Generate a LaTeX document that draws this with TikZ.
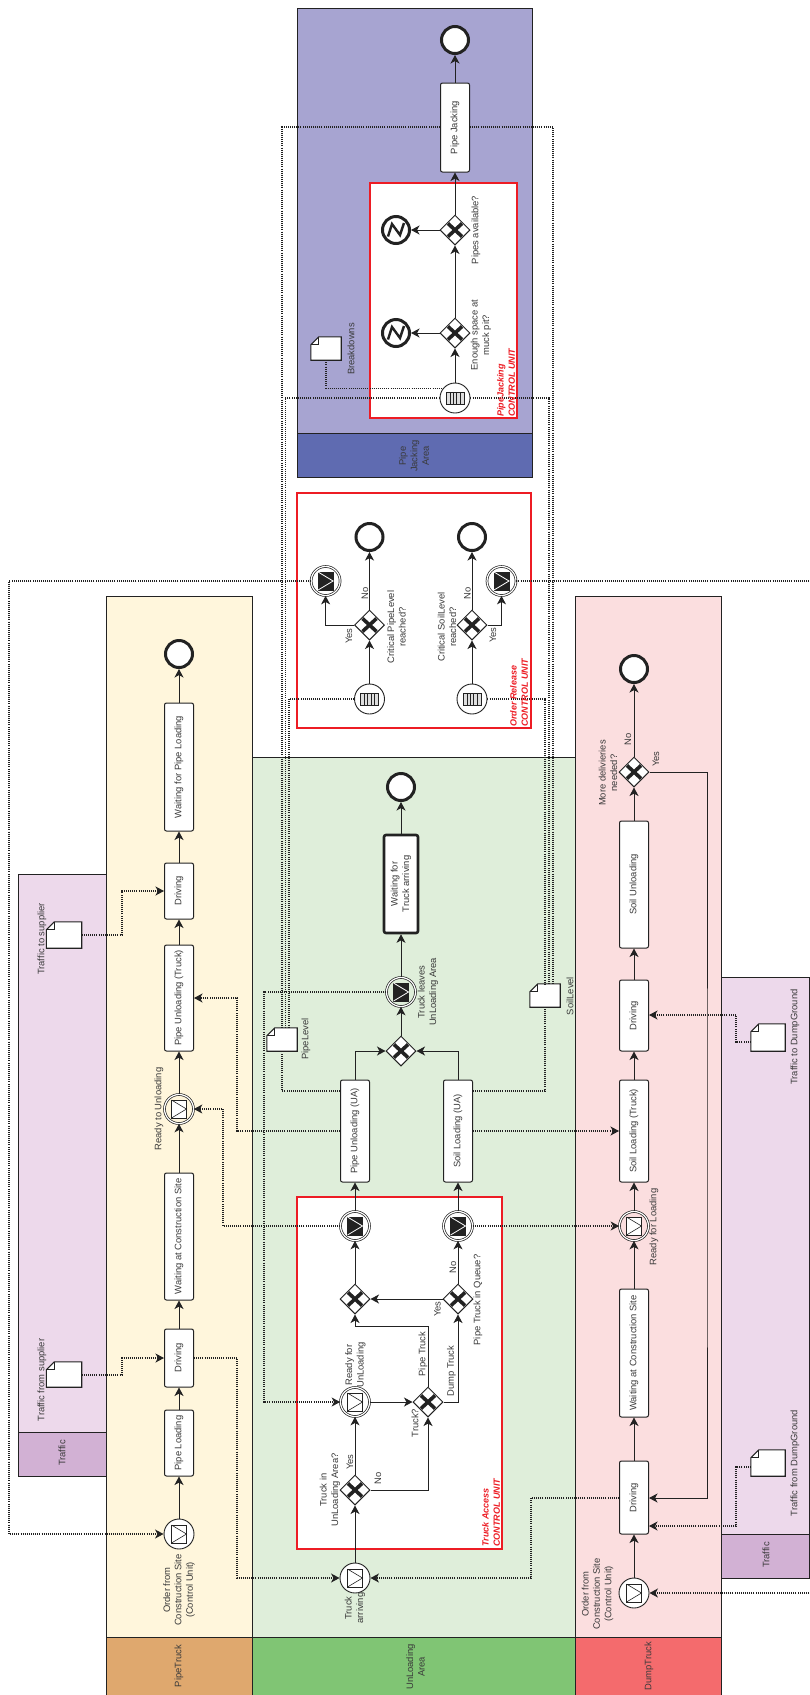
\documentclass[tikz,border=0pt]{standalone}
\usepackage{fontspec}
\setmainfont{Liberation Sans}
\usetikzlibrary{shapes.geometric,arrows.meta}
\definecolor{ink}{HTML}{222222}
\definecolor{txt}{HTML}{3A3A3A}
\definecolor{redb}{HTML}{ED1C24}
\definecolor{lpipe}{HTML}{FFF6DC}\definecolor{hpipe}{HTML}{DFA86E}
\definecolor{lunl}{HTML}{DFEEDA}\definecolor{hunl}{HTML}{80C574}
\definecolor{ldump}{HTML}{FBDEDF}\definecolor{hdump}{HTML}{F46B6D}
\definecolor{ltraf}{HTML}{EDD9EB}\definecolor{htraf}{HTML}{D2B1D4}
\definecolor{ljack}{HTML}{A7A4D1}\definecolor{hjack}{HTML}{5F6BB1}
\newcounter{labc}
\tikzset{
  lanebox/.style={draw=ink,line width=0.9pt},
  redbox/.style={draw=redb,line width=2.8pt,fill=white},
  taskbox/.style={draw=ink,line width=1pt,fill=white,rounded corners=2pt,rotate=90,inner sep=0pt,minimum height=29pt,align=center,text=txt,font=\fontsize{9.4}{11.4}\selectfont},
  gatebox/.style={draw=ink,line width=1pt,fill=white,diamond,aspect=1,inner sep=0pt,minimum size=30pt},
  evstart/.style={draw=ink,line width=0.9pt,fill=white,circle,inner sep=0pt,minimum size=30pt},
  evinter/.style={draw=ink,line width=0.7pt,double=white,double distance=1.2pt,circle,inner sep=0pt,minimum size=29pt},
  evend/.style={draw=ink,line width=3pt,fill=white,circle,inner sep=0pt,minimum size=27pt},
  dataanchor/.style={inner sep=0pt,draw=none},
  flow/.style={draw=ink,line width=1pt,-{Stealth[length=8.5pt,width=9pt,inset=2.4pt]}},
  msgflow/.style={draw=ink,line width=1.1pt,dash pattern=on 1pt off 1.1pt},
  msgarrow/.style={msgflow,-{Stealth[length=8.5pt,width=9pt,inset=2.4pt]}},
  lbl/.style={rotate=90,align=center,text=txt,inner sep=0pt,font=\fontsize{9.4}{11.4}\selectfont},
  redlbl/.style={rotate=90,align=left,anchor=west,text=redb,inner sep=0pt,font=\fontsize{9}{11.4}\selectfont\bfseries\itshape},
}
\newcommand\tsk[6][taskbox]{\node[#1,minimum width={(#5-#4)*1pt}] (#2) at (#3,{(#4+#5)/2}) {#6};}
\newcommand\lab[3]{\stepcounter{labc}\node[lbl] (lab\thelabc) at (#1,#2) {#3};}
\newcommand\redlab[3]{\stepcounter{labc}\node[redlbl] (lab\thelabc) at (#1,#2) {#3};}
\newcommand\xmark[1]{\draw[ink,line width=3.6pt] ([shift={(-7pt,-6.5pt)}]#1.center) -- ([shift={(7pt,6.5pt)}]#1.center) ([shift={(-7pt,6.5pt)}]#1.center) -- ([shift={(7pt,-6.5pt)}]#1.center);}
\newcommand\gate[3]{\node[gatebox] (#1) at (#2,#3) {};\xmark{#1}}
\newcommand\envw[1]{\begin{scope}[shift={(#1.center)}]\draw[ink,line width=0.9pt,fill=white] (-7.5,-9) rectangle (7.5,9);\draw[ink,line width=0.6pt] (-7.5,-9) -- (7.5,0) -- (-7.5,9);\end{scope}}
\newcommand\envb[1]{\begin{scope}[shift={(#1.center)}]\draw[ink,line width=0.9pt,fill=ink] (-7.5,-9) rectangle (7.5,9);\draw[white,line width=0.8pt] (-7.5,-9) -- (7.5,0) -- (-7.5,9);\end{scope}}
\newcommand\startmsg[3]{\node[evstart] (#1) at (#2,#3) {};\envw{#1}}
\newcommand\catch[3]{\node[evinter] (#1) at (#2,#3) {};\envw{#1}}
\newcommand\throw[3]{\node[evinter] (#1) at (#2,#3) {};\envb{#1}}
\newcommand\condstart[3]{\node[evstart] (#1) at (#2,#3) {};\begin{scope}[shift={(#1.center)}]\draw[ink,line width=0.8pt,fill=ink!15] (-9,-6) rectangle (9,6);\foreach \xx in {-5,-1.7,1.7,5}{\draw[ink,line width=0.9pt] (\xx,-6) -- (\xx,6);}\end{scope}}
\newcommand\errend[3]{\node[evend] (#1) at (#2,#3) {};\begin{scope}[shift={(#1.center)}]\draw[ink,line width=2.4pt,miter limit=4] (-8,6.5) -- (-4,-6) -- (4,5) -- (8,-7);\end{scope}}
\newcommand\dataobj[5]{\node[dataanchor,minimum width=#4 pt,minimum height=#5 pt] (#1) at (#2,#3) {};
  \draw[ink,line width=1.1pt,fill=white] ([xshift=8pt]#1.north west) -- (#1.north east) -- (#1.south east) -- (#1.south west) -- ([yshift=-8pt]#1.north west) -- cycle;
  \draw[ink,line width=1.1pt] ([xshift=8pt]#1.north west) -- ([xshift=8pt,yshift=-8pt]#1.north west) -- ([yshift=-8pt]#1.north west);}
\begin{document}
\begin{tikzpicture}[x=1pt,y=-1pt]
\useasboundingbox (0,0) rectangle (809,1695);
% lanes
\path[lanebox,fill=ltraf] (18,874) rectangle (106,1432);
\path[lanebox,fill=htraf] (18,1432) rectangle (106,1476);
\path[lanebox,fill=ltraf] (721,977) rectangle (809.5,1534);
\path[lanebox,fill=htraf] (721,1534) rectangle (809.5,1578);
\path[lanebox,fill=lpipe] (106,596) rectangle (252,1637);
\path[lanebox,fill=hpipe] (106,1637) rectangle (252,1696);
\path[lanebox,fill=lunl] (252,757) rectangle (575,1637);
\path[lanebox,fill=hunl] (252,1637) rectangle (575,1696);
\path[lanebox,fill=ldump] (575,596) rectangle (721,1637);
\path[lanebox,fill=hdump] (575,1637) rectangle (721,1696);
\path[lanebox,fill=ljack] (297,8) rectangle (532,433);
\path[lanebox,fill=hjack] (297,433) rectangle (532,477);
% control units
\path[redbox] (370,183) rectangle (517,418);
\path[redbox] (297,493) rectangle (531,728);
\path[redbox] (297,1197) rectangle (502,1549);
% pipe truck
\startmsg{ps}{179}{1534}
\tsk{pl}{179}{1410}{1476}{Pipe Loading}
\tsk{da}{179}{1329}{1387}{Driving}
\tsk{wa}{179}{1173}{1300}{Waiting at Construction Site}
\catch{ra}{179}{1109}
\tsk{pu}{179}{945}{1051}{Pipe Unloading (Truck)}
\tsk{db}{179}{863}{919}{Driving}
\tsk{wp}{179}{703}{831}{Waiting for Pipe Loading}
\node[evend] (pe) at (179,654) {};
% unloading
\startmsg{ta}{355}{1578}
\gate{ga}{355}{1490}
\catch{rf}{355}{1402}
\gate{tg}{428}{1402}
\gate{gm}{355}{1299}
\gate{gq}{458}{1299}
\throw{ma}{355}{1226}
\throw{mb}{458}{1226}
\tsk{pua}{355}{1080}{1182}{Pipe Unloading (UA)}
\tsk{sua}{458}{1080}{1182}{Soil Loading (UA)}
\gate{gx}{401}{1051}
\throw{tl}{401}{992}
\tsk[taskbox,line width=2.6pt,minimum height=34pt]{wt}{401}{835}{933}{Waiting for\\Truck arriving}
\node[evend] (ue) at (401,787) {};
% dump truck
\startmsg{ds}{634}{1593}
\tsk{dd}{634}{1461}{1534}{Driving}
\tsk{dw}{634}{1289}{1417}{Waiting at Construction Site}
\catch{rl}{634}{1226}
\tsk{sl}{634}{1080}{1182}{Soil Loading (Truck)}
\tsk{de}{634}{980}{1051}{Driving}
\tsk{su}{634}{821}{948}{Soil Unloading}
\gate{gd}{634}{772}
\node[evend] (dn) at (634,669) {};
% order release
\condstart{oa}{369.5}{699}
\condstart{ob}{472}{699}
\gate{oga}{369.5}{625}
\gate{ogb}{472}{625}
\node[evend] (oea) at (369.5,537) {};
\node[evend] (oeb) at (472,537) {};
\throw{ora}{325.6}{581}
\throw{orb}{501.5}{581}
% pipe jacking
\condstart{js}{455}{398}
\gate{jga}{455}{333}
\gate{jgb}{455}{230}
\tsk{jt}{455}{83}{172}{Pipe Jacking}
\node[evend] (je) at (455,40) {};
\errend{xa}{396}{333}
\errend{xb}{396}{230}
% data objects
\dataobj{tfs}{64}{1374.5}{35}{25}
\dataobj{tts}{64}{935}{35}{26}
\dataobj{tfd}{768}{1463}{34}{26}
\dataobj{ttd}{768}{1037.5}{34}{27}
\dataobj{pll}{282}{1039.5}{30}{23}
\dataobj{sll}{545}{995.5}{30}{23}
\dataobj{bd}{326}{348.5}{30}{23}
% free ends at the picture's right edge
\coordinate (edgea) at (809,581);
\coordinate (edgeb) at (809,1593);
% sequence flows
\draw[flow] (ps.north) -- (pl.west);
\draw[flow] (pl.east) -- (da.west);
\draw[flow] (da.east) -- (wa.west);
\draw[flow] (wa.east) -- (ra.south);
\draw[flow] (ra.north) -- (pu.west);
\draw[flow] (pu.east) -- (db.west);
\draw[flow] (db.east) -- (wp.west);
\draw[flow] (wp.east) -- (pe.south);
\draw[flow] (ta.north) -- (ga.south);
\draw[flow] (ga.north) -- (rf.south);
\draw[flow] (ga.east) -| (tg.south);
\draw[flow] (rf.east) -- (tg.west);
\draw[flow] (tg.north) -- ++(0,-60) -| (gm.south);
\draw[flow] (tg.east) -| (gq.south);
\draw[flow] (gq.west) -- (gm.east);
\draw[flow] (gm.north) -- (ma.south);
\draw[flow] (gq.north) -- (mb.south);
\draw[flow] (ma.north) -- (pua.west);
\draw[flow] (mb.north) -- (sua.west);
\draw[flow] (pua.east) |- (gx.west);
\draw[flow] (sua.east) |- (gx.east);
\draw[flow] (gx.north) -- (tl.south);
\draw[flow] (tl.north) -- (wt.west);
\draw[flow] (wt.east) -- (ue.south);
\draw[flow] (ds.north) -- (dd.west);
\draw[flow] (dd.east) -- (dw.west);
\draw[flow] (dw.east) -- (rl.south);
\draw[flow] (rl.north) -- (sl.west);
\draw[flow] (sl.east) -- (de.west);
\draw[flow] (de.east) -- (su.west);
\draw[flow] (su.east) -- (gd.south);
\draw[flow] (gd.north) -- (dn.south);
\draw[flow] (gd.east) -| (707,1200) |- (dd.south |- 0,1498);
\draw[flow] (oa.north) -- (oga.south);
\draw[flow] (ob.north) -- (ogb.south);
\draw[flow] (oga.north) -- (oea.south);
\draw[flow] (ogb.north) -- (oeb.south);
\draw[flow] (oga.west) -| (ora.south);
\draw[flow] (ogb.east) -| (orb.south);
\draw[flow] (js.north) -- (jga.south);
\draw[flow] (jga.north) -- (jgb.south);
\draw[flow] (jgb.north) -- (jt.west);
\draw[flow] (jt.east) -- (je.south);
\draw[flow] (jga.west) -- (xa.east);
\draw[flow] (jgb.west) -- (xb.east);
% message flows
\draw[msgarrow] (ora.west) -| (9,1000) |- (ps.west);
\draw[msgflow] (orb.east) -- (edgea);
\draw[msgarrow] (edgeb) -- (ds.east);
\draw[msgarrow] (tfs.east |- 0,1375) -| (122,1360) |- (da.north);
\draw[msgarrow] (tts.east |- 0,935) -| (122,900) |- (db.north);
\draw[msgarrow] (da.south) -| (237,1500) |- (ta.west);
\draw[msgarrow] (dd.north |- 0,1498) -| (531,1540) |- (ta.east);
\draw[msgarrow] (ma.west) -| (223,1150) |- (ra.east);
\draw[msgarrow] (mb.east) -- (rl.west);
\draw[msgarrow] (pua.north |- 0,1131) -| (237,1050) |- (pu.south |- 0,998);
\draw[msgarrow] (sua.south |- 0,1131) -- (sl.north |- 0,1131);
\draw[msgarrow] (tl.west) -| (264,1200) |- (rf.west);
\draw[msgflow] (pua.north |- 0,1091) -| (pll.south);
\draw[msgflow] (sua.south |- 0,1091) -| (sll.south);
\draw[msgarrow] (tfd.west |- 0,1467) -| (736,1500) |- (dd.south |- 0,1526);
\draw[msgarrow] (ttd.west |- 0,1042) -| (736,1030) |- (de.south |- 0,1015);
\draw[msgflow] (jt.north |- 0,127) -| (pll.north);
\draw[msgflow] (js.west) -| ([xshift=3.4pt]pll.north);
\draw[msgflow] (oa.west) -| ([xshift=7pt]pll.north);
\draw[msgflow] (jt.south |- 0,127) -| ([xshift=8pt]sll.north);
\draw[msgflow] (js.east) -| ([xshift=4pt]sll.north);
\draw[msgflow] (ob.east) -| (sll.north);
\draw[msgflow] (bd.south) |- (js.140);
% labels
\lab{62}{1453}{Traffic}
\lab{179}{1666}{PipeTruck}
\lab{415.5}{1667}{UnLoading\\Area}
\lab{649}{1666}{DumpTruck}
\lab{766}{1555}{Traffic}
\lab{179}{1590}{Order from\\Construction Site\\(Control Unit)}
\lab{597.5}{1594}{Order from\\Construction Site\\(Control Unit)}
\lab{42}{1380}{Traffic from supplier}
\lab{42}{939}{Traffic to supplier}
\lab{795}{1463}{Traffic from DumpGround}
\lab{795}{1037}{Traffic to DumpGround}
\lab{159}{1109}{Ready to Unloading}
\lab{355}{1608}{Truck\\arriving}
\lab{330}{1490}{Truck in\\UnLoading Area?}
\lab{350}{1462}{Yes}
\lab{378}{1478}{No}
\lab{355.5}{1365}{Ready for\\UnLoading}
\lab{415}{1423}{Truck?}
\lab{423}{1354}{Pipe Truck}
\lab{451.5}{1371}{Dump Truck}
\lab{437.5}{1309}{Yes}
\lab{453}{1267}{No}
\lab{478}{1300}{Pipe Truck in Queue?}
\lab{306}{1039}{PipeLevel}
\lab{570}{996}{SoilLevel}
\lab{428}{992}{Truck leaves\\UnLoading Area}
\lab{654}{1227}{Ready for Loading}
\lab{608}{773}{More delivieries\\needed?}
\lab{628}{739}{No}
\lab{656}{759}{Yes}
\lab{349}{636}{Yes}
\lab{365}{593}{No}
\lab{396.5}{627}{Critical PipeLevel\\reached?}
\lab{447}{627}{Critical SoilLevel\\reached?}
\lab{467.5}{593}{No}
\lab{493}{635}{Yes}
\lab{414}{456}{Pipe\\Jacking\\Area}
\lab{351}{349}{Breakdowns}
\lab{481}{335}{Enough space at\\muck pit?}
\lab{476}{230}{Pipes available?}
\redlab{491}{1547}{Truck Access\\CONTROL UNIT}
\redlab{519}{727}{Order Release\\CONTROL UNIT}
\redlab{506}{417}{PipeJacking\\CONTROL UNIT}
\end{tikzpicture}
\end{document}
